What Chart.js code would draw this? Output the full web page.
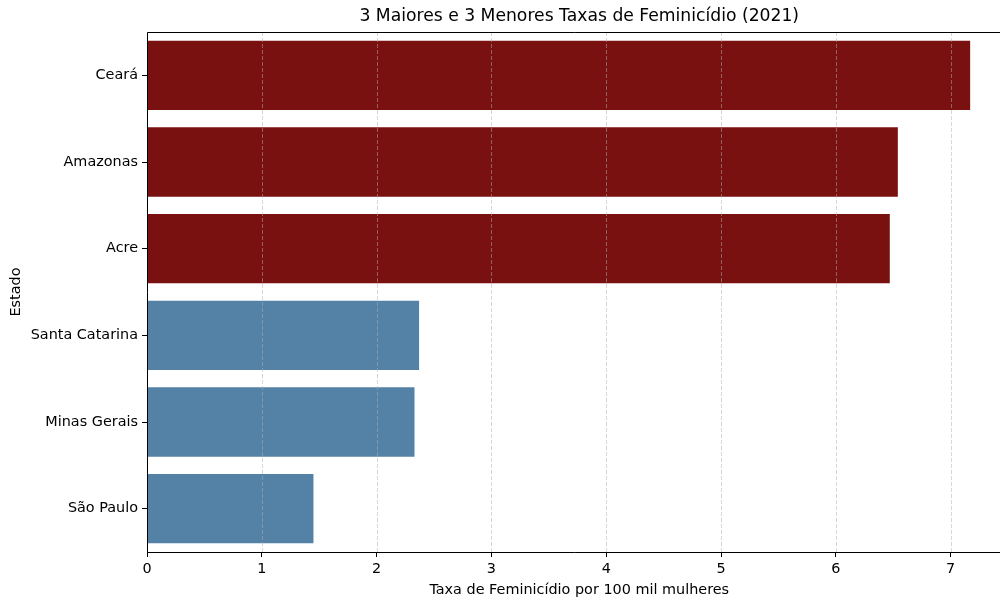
<!DOCTYPE html>
<html>
<head>
<meta charset="utf-8">
<script src="https://cdn.jsdelivr.net/npm/chart.js@4.4.0/dist/chart.umd.min.js"></script>
<style>
  html, body { margin: 0; padding: 0; background: #fff; overflow: hidden; }
  #wrap { width: 1000px; height: 598px; }
</style>
</head>
<body>
<div id="wrap"><canvas id="chart"></canvas></div>
<script>
// dados
const estados = ['Ceará', 'Amazonas', 'Acre', 'Santa Catarina', 'Minas Gerais', 'São Paulo'];
const taxas = [7.17, 6.54, 6.47, 2.37, 2.33, 1.45];
const cores = ['#7a1111', '#7a1111', '#7a1111', '#5481a6', '#5481a6', '#5481a6'];
const xTicks = [0, 1, 2, 3, 4, 5, 6, 7];
const titulo = '3 Maiores e 3 Menores Taxas de Feminicídio (2021)';
const tituloX = 'Taxa de Feminicídio por 100 mil mulheres';
const tituloY = 'Estado';

Chart.defaults.font.family = 'DejaVu Sans';
Chart.defaults.font.size = 14.4;
Chart.defaults.color = '#000';

// grade tracejada por cima das barras + moldura + título centrado no eixo
const extras = {
  id: 'extras',
  afterDatasetsDraw(chart) {
    const ctx = chart.ctx;
    const area = chart.chartArea;
    const x = chart.scales.x;
    ctx.save();
    ctx.strokeStyle = 'rgba(176,176,176,0.5)';
    ctx.lineWidth = 1;
    ctx.setLineDash([4, 2]);
    xTicks.forEach(v => {
      const px = Math.round(x.getPixelForValue(v)) + 0.5;
      ctx.beginPath();
      ctx.moveTo(px, area.top);
      ctx.lineTo(px, area.bottom);
      ctx.stroke();
    });
    ctx.setLineDash([]);
    ctx.strokeStyle = '#000';
    ctx.lineWidth = 1;
    ctx.beginPath();
    ctx.moveTo(area.right + 20, area.top + 0.5);
    ctx.lineTo(area.left + 0.5, area.top + 0.5);
    ctx.lineTo(area.left + 0.5, area.bottom + 0.5);
    ctx.lineTo(area.right + 20, area.bottom + 0.5);
    ctx.stroke();
    ctx.restore();
  },
  afterDraw(chart) {
    const ctx = chart.ctx;
    const area = chart.chartArea;
    const cx = area.left + (chart.scales.x.getPixelForValue(7.53) - area.left) / 2;
    ctx.save();
    ctx.fillStyle = '#000';
    ctx.textAlign = 'center';
    ctx.textBaseline = 'middle';
    ctx.font = '17.2px "DejaVu Sans"';
    ctx.fillText(titulo, cx, 17);
    ctx.font = '14.4px "DejaVu Sans"';
    ctx.fillText(tituloX, cx, 590);
    ctx.translate(16, (area.top + area.bottom) / 2);
    ctx.rotate(-Math.PI / 2);
    ctx.fillText(tituloY, 0, 0);
    ctx.restore();
  }
};

new Chart(document.getElementById('chart'), {
  type: 'bar',
  data: {
    labels: estados,
    datasets: [{
      data: taxas,
      backgroundColor: cores,
      borderWidth: 0,
      categoryPercentage: 0.8,
      barPercentage: 1.0
    }]
  },
  options: {
    indexAxis: 'y',
    responsive: true,
    maintainAspectRatio: false,
    animation: false,
    layout: { padding: { top: 32, right: 0, bottom: 0, left: 0 } },
    plugins: {
      legend: { display: false },
      tooltip: { enabled: false }
    },
    scales: {
      x: {
        min: 0,
        max: 7.43,
        afterBuildTicks: s => { s.ticks = xTicks.map(v => ({ value: v })); },
        border: { display: false },
        grid: { drawOnChartArea: false, drawTicks: true, tickLength: 5, color: '#000' },
        ticks: { padding: 4, color: '#000', maxRotation: 0 },
        afterFit: s => { s.height = 46; }
      },
      y: {
        border: { display: false },
        grid: { drawOnChartArea: false, drawTicks: true, tickLength: 5, color: '#000', offset: false },
        ticks: { padding: 4, color: '#000' },
        afterFit: s => { s.width = 147; }
      }
    }
  },
  plugins: [extras]
});
</script>
</body>
</html>
